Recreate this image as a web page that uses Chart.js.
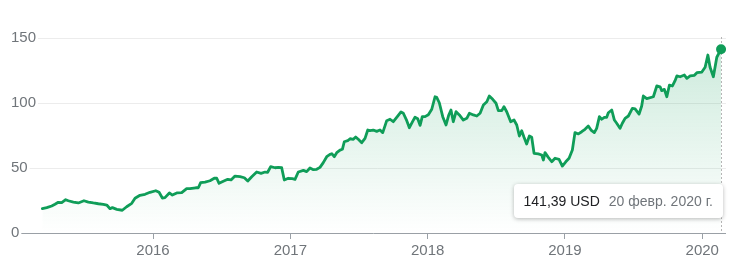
<!DOCTYPE html>
<html><head><meta charset="utf-8">
<script src="https://cdn.jsdelivr.net/npm/chart.js@4.4.1/dist/chart.umd.min.js"></script>
<style>
html,body{margin:0;padding:0;background:#fff;}
#wrap{position:relative;width:740px;height:266px;overflow:hidden;}
canvas{display:block;}
#tip{position:absolute;top:184px;height:34px;box-sizing:border-box;padding:0 10px;background:#fff;border-radius:4px;box-shadow:0 1px 4px rgba(0,0,0,0.28);font:14px Arial,"Liberation Sans",sans-serif;line-height:35px;white-space:nowrap;}
#tip .v{color:#202124;}
#tip .d{color:#70757a;margin-left:9px;}
</style></head>
<body><div id="wrap"><canvas id="c" width="740" height="266"></canvas><div id="tip"><span class="v"></span><span class="d"></span></div></div>
<script>
// Dates as decimal years
const years = [2015.194,2015.226,2015.262,2015.286,2015.310,2015.335,2015.364,2015.383,2015.420,2015.456,2015.497,2015.529,2015.565,2015.602,2015.638,2015.663,2015.687,2015.704,2015.736,2015.776,2015.808,2015.845,2015.869,2015.905,2015.942,2015.978,2016.020,2016.044,2016.068,2016.087,2016.119,2016.141,2016.173,2016.209,2016.245,2016.269,2016.311,2016.330,2016.347,2016.379,2016.415,2016.446,2016.464,2016.481,2016.512,2016.544,2016.568,2016.597,2016.634,2016.665,2016.690,2016.719,2016.755,2016.787,2016.816,2016.835,2016.857,2016.889,2016.913,2016.937,2016.956,2016.985,2017.015,2017.034,2017.058,2017.095,2017.119,2017.143,2017.168,2017.192,2017.216,2017.240,2017.265,2017.289,2017.302,2017.320,2017.338,2017.362,2017.379,2017.393,2017.418,2017.435,2017.459,2017.476,2017.495,2017.520,2017.544,2017.564,2017.580,2017.604,2017.629,2017.653,2017.673,2017.702,2017.726,2017.750,2017.779,2017.806,2017.823,2017.848,2017.867,2017.891,2017.908,2017.928,2017.945,2017.961,2017.981,2018.005,2018.030,2018.054,2018.066,2018.085,2018.110,2018.134,2018.154,2018.170,2018.187,2018.207,2018.231,2018.260,2018.285,2018.304,2018.333,2018.358,2018.382,2018.406,2018.431,2018.449,2018.474,2018.498,2018.515,2018.540,2018.556,2018.576,2018.605,2018.629,2018.649,2018.668,2018.685,2018.702,2018.721,2018.741,2018.758,2018.775,2018.806,2018.831,2018.843,2018.855,2018.879,2018.904,2018.928,2018.957,2018.981,2019.006,2019.030,2019.054,2019.073,2019.098,2019.122,2019.146,2019.170,2019.190,2019.214,2019.231,2019.251,2019.268,2019.287,2019.304,2019.316,2019.341,2019.360,2019.377,2019.401,2019.418,2019.438,2019.462,2019.491,2019.511,2019.540,2019.559,2019.571,2019.596,2019.644,2019.669,2019.693,2019.705,2019.724,2019.742,2019.761,2019.783,2019.802,2019.815,2019.839,2019.870,2019.888,2019.912,2019.943,2019.961,2019.997,2020.021,2020.041,2020.057,2020.081,2020.106,2020.137];
// Price, USD
const prices = [18.7,19.5,20.8,22.1,23.6,23.3,25.6,24.8,23.8,23.1,24.8,23.8,23.1,22.5,22.1,21.5,18.7,19.5,18.2,17.5,20.2,22.8,26.7,29.0,29.8,31.3,32.5,31.3,26.9,27.2,30.8,29.2,30.8,31.0,34.1,34.1,34.8,34.8,38.7,39.2,40.2,42.1,42.1,38.2,39.8,41.3,40.8,43.8,43.3,42.5,40.0,43.3,46.9,45.9,46.9,46.7,51.0,50.2,50.5,50.2,40.8,42.1,41.8,41.3,46.9,48.2,47.2,50.0,48.7,49.0,50.5,54.1,58.7,60.5,61.0,58.7,61.8,63.8,64.4,70.2,71.0,72.5,72.1,73.8,72.1,69.5,72.8,79.2,78.7,79.2,78.2,79.2,77.2,86.4,87.5,85.6,89.5,93.1,92.1,86.4,81.0,85.9,89.0,87.9,82.8,89.5,89.5,91.0,95.2,104.8,104.4,100.2,89.5,83.1,90.8,94.6,85.6,93.3,90.8,86.9,88.2,92.1,90.8,90.0,92.1,98.5,101.0,105.4,102.8,99.8,94.1,94.1,97.2,93.3,85.6,86.9,83.1,74.6,78.7,73.6,68.5,74.6,73.6,61.3,60.8,60.0,56.2,61.8,58.2,54.8,57.5,56.7,51.5,54.8,57.5,63.8,77.2,76.2,77.9,79.8,82.3,79.2,77.2,80.5,89.5,87.5,89.0,89.0,92.5,94.6,86.9,84.4,80.5,84.4,88.2,90.0,95.9,95.4,91.5,97.7,105.4,103.3,104.8,113.1,112.5,109.5,110.5,104.8,113.8,113.1,117.2,120.8,120.2,121.5,119.0,120.8,121.3,123.3,123.8,127.5,136.9,127.5,120.2,135.2,141.39];
const xTickYears = [2016, 2017, 2018, 2019, 2020];
const yTicks = [0, 50, 100, 150];
const currency = 'USD';
const lastDateLabel = '20 февр. 2020 г.';

const GREEN = '#0f9d58';
const FAMILY = 'Arial, "Liberation Sans", sans-serif';
const FONT_SIZE = 15;
const last = years.length - 1;

const gridPlugin = {
  id: 'gGrid',
  beforeDatasetsDraw(chart) {
    const {ctx, chartArea, scales: {x, y}} = chart;
    ctx.save();
    ctx.font = FONT_SIZE + 'px ' + FAMILY;
    ctx.lineWidth = 1;
    y.ticks.forEach(t => {
      const py = Math.round(y.getPixelForValue(t.value)) + 0.5;
      const w = ctx.measureText(String(t.value)).width;
      ctx.beginPath();
      ctx.moveTo(y.left + w + 2, py);
      ctx.lineTo(chartArea.right, py);
      ctx.strokeStyle = t.value === 0 ? '#9aa0a6' : '#ececec';
      ctx.stroke();
    });
    const lx = Math.round(x.getPixelForValue(years[last])) + 0.5;
    ctx.setLineDash([2, 2]);
    ctx.strokeStyle = '#b5b5b5';
    ctx.beginPath();
    ctx.moveTo(lx, chartArea.top - 1);
    ctx.lineTo(lx, chartArea.bottom);
    ctx.stroke();
    ctx.restore();
  }
};

const chart = new Chart(document.getElementById('c'), {
  type: 'line',
  data: {
    datasets: [{
      data: years.map((x, i) => ({x: x, y: prices[i]})),
      borderColor: GREEN,
      borderWidth: 2.8,
      tension: 0,
      borderJoinStyle: 'round',
      borderCapStyle: 'round',
      pointRadius: c => c.dataIndex === last ? 5 : 0,
      pointHoverRadius: 0,
      pointBackgroundColor: GREEN,
      pointBorderWidth: 0,
      fill: 'origin',
      backgroundColor: c => {
        const area = c.chart.chartArea;
        if (!area) return 'rgba(15,157,88,0.1)';
        const g = c.chart.ctx.createLinearGradient(0, area.top, 0, area.bottom);
        g.addColorStop(0, 'rgba(15,157,88,0.22)');
        g.addColorStop(1, 'rgba(15,157,88,0)');
        return g;
      }
    }]
  },
  options: {
    responsive: false,
    animation: false,
    events: [],
    layout: {padding: {left: 11, right: 14, top: 38, bottom: 0}},
    plugins: {legend: {display: false}, tooltip: {enabled: false}},
    scales: {
      x: {
        type: 'linear',
        min: 2015.155,
        max: 2020.173,
        afterBuildTicks: s => { s.ticks = xTickYears.map(v => ({value: v})); },
        afterFit: s => { s.height = 33; },
        grid: {drawOnChartArea: false, drawTicks: true, tickLength: 6, color: '#9aa0a6'},
        border: {display: false},
        ticks: {color: '#70757a', font: {family: FAMILY, size: FONT_SIZE}, padding: 3, maxRotation: 0, autoSkip: false, callback: v => String(v)}
      },
      y: {
        min: 0,
        max: 150,
        afterBuildTicks: s => { s.ticks = yTicks.map(v => ({value: v})); },
        afterFit: s => { s.width = 26; },
        grid: {display: false},
        border: {display: false},
        ticks: {color: '#70757a', font: {family: FAMILY, size: FONT_SIZE}, crossAlign: 'far', padding: 0, callback: v => String(v)}
      }
    }
  },
  plugins: [gridPlugin]
});

const tip = document.getElementById('tip');
tip.querySelector('.v').textContent = prices[last].toFixed(2).replace('.', ',') + ' ' + currency;
tip.querySelector('.d').textContent = lastDateLabel;
const tipX = chart.scales.x.getPixelForValue(years[last]);
tip.style.left = (tipX + 1.5 - tip.offsetWidth) + 'px';
</script>
</body></html>
